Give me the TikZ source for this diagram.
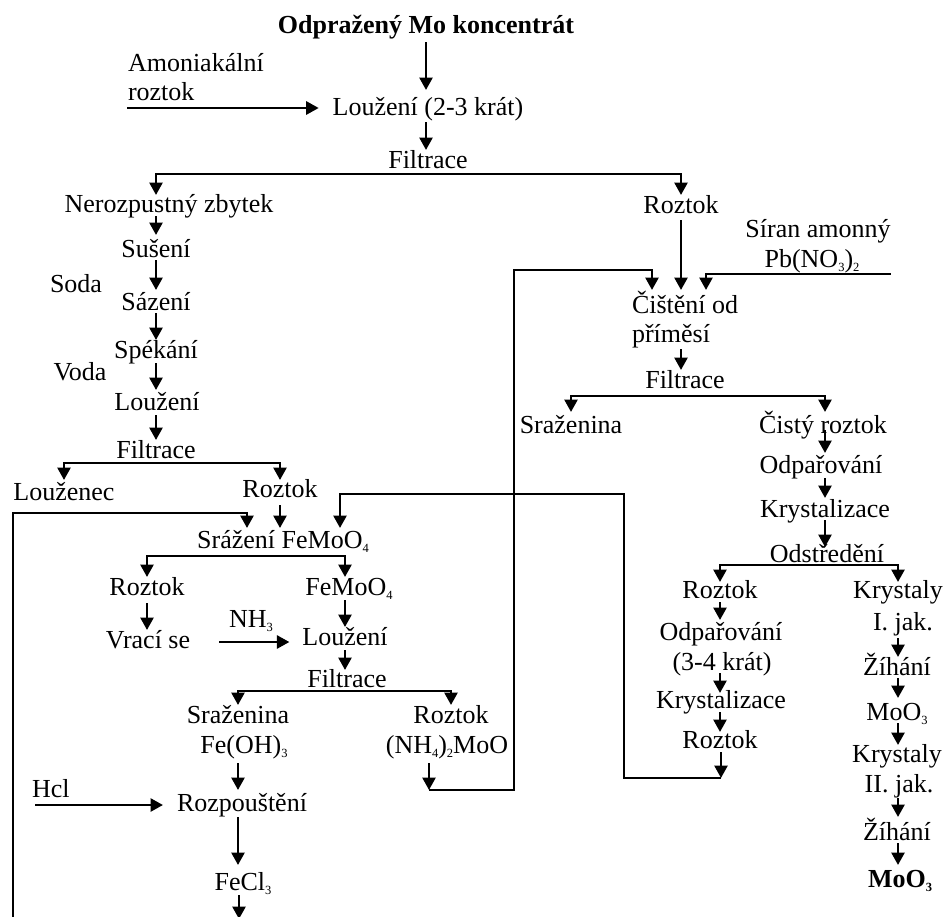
\documentclass[tikz,border=0pt]{standalone}
\usepackage{fontspec}
\setmainfont{Liberation Serif}
\usetikzlibrary{arrows.meta,calc}
% small lowered index for chemical formulas
\newcommand\lowidx[1]{\raisebox{-4pt}{\fontsize{12.5}{12.5}\selectfont #1}}
\begin{document}
\begin{tikzpicture}[x=1pt,y=-1pt,
  lbl/.style={inner sep=0pt, outer sep=0pt, anchor=base, font=\fontsize{26}{30}\selectfont},
  lblL/.style={lbl, anchor=base west},
  bold/.style={lbl, font=\fontsize{26}{30}\selectfont\bfseries},
  arr/.style={line width=2.7pt, -{Triangle[length=12.5pt,width=13pt]}},
  wire/.style={line width=2.7pt}]
\useasboundingbox (0,0) rectangle (947,916);
\fill[white] (0,0) rectangle (947,916);
\clip (0,0) rectangle (947,916);

% ---------- main trunk ----------
\node[bold] (title) at (426,33) {Odpražený Mo koncentrát};
\node[lblL] (am1) at (128,71) {Amoniakální};
\node[lblL] (am2) at (128,100) {roztok};
\node[lbl] (lz1) at (428,115) {Loužení (2-3 krát)};
\node[lbl] (f1) at (428,168) {Filtrace};

% ---------- insoluble residue branch ----------
\node[lbl] (nz) at (169,212) {Nerozpustný zbytek};
\node[lbl] (su) at (156,257) {Sušení};
\node[lbl] (soda) at (76,292) {Soda};
\node[lbl] (sa) at (156,310) {Sázení};
\node[lbl] (sp) at (156,358) {Spékání};
\node[lbl] (voda) at (80,380) {Voda};
\node[lbl] (lz2) at (157,410) {Loužení};
\node[lbl] (f2) at (156,458) {Filtrace};
\node[lbl] (lzc) at (64,500) {Louženec};
\node[lbl] (rz2) at (280,497) {Roztok};
\node[lbl] (srz) at (283,548) {Srážení FeMoO\lowidx{4}};
\node[lbl] (rz5) at (147,595) {Roztok};
\node[lbl] (fe) at (349,595) {FeMoO\lowidx{4}};
\node[lbl] (vr) at (148,648) {Vrací se};
\node[lblL] (nh3) at (229,627) {NH\lowidx{3}};
\node[lbl] (lz3) at (345,645) {Loužení};
\node[lbl] (f4) at (347,687) {Filtrace};
\node[lbl] (sr3) at (238,723) {Sraženina};
\node[lbl] (feoh) at (244,753) {Fe(OH)\lowidx{3}};
\node[lbl] (rz6) at (451,723) {Roztok};
\node[lbl] (nh4) at (447,753) {(NH\lowidx{4})\lowidx{2}MoO};
\node[lblL] (hcl) at (32,797) {Hcl};
\node[lbl] (rozp) at (242,811) {Rozpouštění};
\node[lbl] (fecl) at (243,890) {FeCl\lowidx{3}};

% ---------- solution branch ----------
\node[lbl] (rzR) at (681,213) {Roztok};
\node[lbl] (sir) at (818,237) {Síran amonný};
\node[lbl] (pb) at (812,267) {Pb(NO\lowidx{3})\lowidx{2}};
\node[lblL] (cis1) at (632,313) {Čištění od};
\node[lblL] (cis2) at (632,342) {příměsí};
\node[lbl] (f3) at (685,388) {Filtrace};
\node[lbl] (sr2) at (571,433) {Sraženina};
\node[lbl] (cr) at (823,433) {Čistý roztok};
\node[lbl] (od1) at (821,473) {Odpařování};
\node[lbl] (kr1) at (825,517) {Krystalizace};
\node[lbl] (ods) at (827,562) {Odstředění};
\node[lbl] (rz3) at (720,598) {Roztok};
\node[lbl] (od2) at (721,640) {Odpařování};
\node[lbl] (od2b) at (722,670) {(3-4 krát)};
\node[lbl] (kr2) at (721,708) {Krystalizace};
\node[lbl] (rz4) at (720,748) {Roztok};
\node[lbl] (ky1) at (898,598) {Krystaly};
\node[lbl] (ij1) at (903,630) {I. jak.};
\node[lbl] (zh1) at (897,675) {Žíhání};
\node[lbl] (mo1) at (897,720) {MoO\lowidx{3}};
\node[lbl] (ky2) at (897,762) {Krystaly};
\node[lbl] (ij2) at (899,792) {II. jak.};
\node[lbl] (zh2) at (897,840) {Žíhání};
\node[bold] (mo2) at (900,887) {MoO\lowidx{3}};

% free ends of the recycle lines
\coordinate (j1) at (429,790);
\coordinate (j2) at (721,778);
\coordinate (fb) at (239,919);
\coordinate (bl) at (13,918);

% ---------- connectors: trunk ----------
\draw[arr] ($(title.base)+(0,9)$) -- ($(title.base |- lz1.base)+(0,-25)$);
\draw[arr] ($(am2.base west)+(-1,8)$) -- ($(lz1.base west)+(-14,-7)$);
\draw[arr] ($(lz1.base -| title.base)+(0,7)$) -- ($(f1.base -| title.base)+(0,-18)$);
\draw[arr] ($(f1.base)+(0,6)$) -| ($(nz.base -| su.base)+(0,-17)$);
\draw[arr] ($(f1.base)+(0,6)$) -| ($(rzR.base)+(0,-18)$);

% ---------- connectors: residue branch ----------
\draw[arr] ($(nz.base -| su.base)+(0,4)$) -- ($(su.base)+(0,-22)$);
\draw[arr] ($(su.base)+(0,3)$) -- ($(sa.base)+(0,-20)$);
\draw[arr] ($(sa.base)+(0,3)$) -- ($(sp.base)+(0,-18)$);
\draw[arr] ($(sp.base)+(0,5)$) -- ($(sp.base |- lz2.base)+(0,-20)$);
\draw[arr] ($(lz2.base -| sp.base)+(0,5)$) -- ($(f2.base)+(0,-18)$);
\draw[arr] ($(f2.base)+(0,5)$) -| ($(lzc.base)+(0,-20)$);
\draw[arr] ($(f2.base)+(0,5)$) -| ($(rz2.base)+(0,-17)$);
\draw[arr] ($(rz2.base)+(0,8)$) -- ($(rz2.base |- srz.base)+(0,-20)$);
\draw[arr] ($(srz.base)+(0,8)$) -| ($(rz5.base)+(0,-18)$);
\draw[arr] ($(srz.base)+(0,8)$) -| ($(fe.base -| lz3.base)+(0,-18)$);
\draw[arr] ($(rz5.base)+(0,8)$) -- ($(rz5.base |- vr.base)+(0,-18)$);
\draw[arr] ($(fe.base -| lz3.base)+(0,5)$) -- ($(lz3.base)+(0,-18)$);
\draw[arr] ($(nh3.base west)+(-10,15)$) -- ($(lz3.base west)+(-13,-3)$);
\draw[arr] ($(lz3.base)+(0,5)$) -- ($(lz3.base |- f4.base)+(0,-17)$);
\draw[arr] ($(f4.base)+(0,4)$) -| ($(sr3.base)+(0,-18)$);
\draw[arr] ($(f4.base)+(0,4)$) -| ($(rz6.base)+(0,-18)$);
\draw[arr] ($(feoh.base -| sr3.base)+(0,10)$) -- ($(sr3.base |- rozp.base)+(0,-21)$);
\draw[arr] ($(hcl.base west)+(3,8)$) -- ($(rozp.base west)+(-14,-6)$);
\draw[arr] ($(rozp.base -| sr3.base)+(0,6)$) -- ($(sr3.base |- fecl.base)+(0,-25)$);
\draw[arr] ($(fecl.base -| fb)+(0,5)$) -- (fb);
\draw[arr] (bl) |- ($(srz.base)+(-36,-35)$) -- ($(srz.base)+(-36,-20)$);
\draw[arr] ($(nh4.base -| j1)+(0,10)$) -- (j1);
\draw[arr] (j1) -- ++(85,0) |- ($(cis1.base west)+(20,-43)$) -- ($(cis1.base west)+(20,-23)$);

% ---------- connectors: solution branch ----------
\draw[arr] ($(rzR.base)+(0,7)$) -- ($(rzR.base |- cis1.base)+(0,-23)$);
\draw[arr] ($(sir.base east |- pb.base)+(0,7)$) -| ($(cis1.base west)+(74,-23)$);
\draw[arr] ($(cis2.base -| rzR.base)+(0,7)$) -- ($(rzR.base |- f3.base)+(0,-18)$);
\draw[arr] ($(f3.base)+(0,8)$) -| ($(sr2.base)+(0,-21)$);
\draw[arr] ($(f3.base)+(0,8)$) -| ($(cr.base -| kr1.base)+(0,-21)$);
\draw[arr] ($(cr.base -| kr1.base)+(0,-3)$) -- ($(kr1.base |- od1.base)+(0,-20)$);
\draw[arr] ($(od1.base -| kr1.base)+(0,5)$) -- ($(kr1.base)+(0,-19)$);
\draw[arr] ($(kr1.base)+(0,3)$) -- ($(kr1.base |- ods.base)+(0,-15)$);
\draw[arr] ($(ods.base)+(0,3)$) -| ($(rz3.base)+(0,-16)$);
\draw[arr] ($(ods.base)+(0,3)$) -| ($(ky1.base)+(0,-16)$);
\draw[arr] ($(rz3.base)+(0,4)$) -- ($(rz3.base |- od2.base)+(0,-20)$);
\draw[arr] ($(od2b.base -| rz3.base)+(0,3)$) -- ($(rz3.base |- kr2.base)+(0,-15)$);
\draw[arr] ($(kr2.base -| rz3.base)+(0,4)$) -- ($(rz3.base |- rz4.base)+(0,-16)$);
\draw[arr] ($(rz4.base -| j2)+(0,4)$) -- (j2);
\draw[arr] (j2) -- ++(-97,0) |- ($(srz.base)+(57,-54)$) -- ($(srz.base)+(57,-20)$);
\draw[arr] ($(ij1.base -| ky1.base)+(0,8)$) -- ($(ky1.base |- zh1.base)+(0,-18)$);
\draw[arr] ($(zh1.base -| ky1.base)+(0,3)$) -- ($(ky1.base |- mo1.base)+(0,-22)$);
\draw[arr] ($(mo1.base -| ky1.base)+(0,3)$) -- ($(ky1.base |- ky2.base)+(0,-17)$);
\draw[arr] ($(ij2.base -| ky1.base)+(0,6)$) -- ($(ky1.base |- zh2.base)+(0,-23)$);
\draw[arr] ($(zh2.base -| ky1.base)+(0,3)$) -- ($(ky1.base |- mo2.base)+(0,-22)$);
\end{tikzpicture}
\end{document}
